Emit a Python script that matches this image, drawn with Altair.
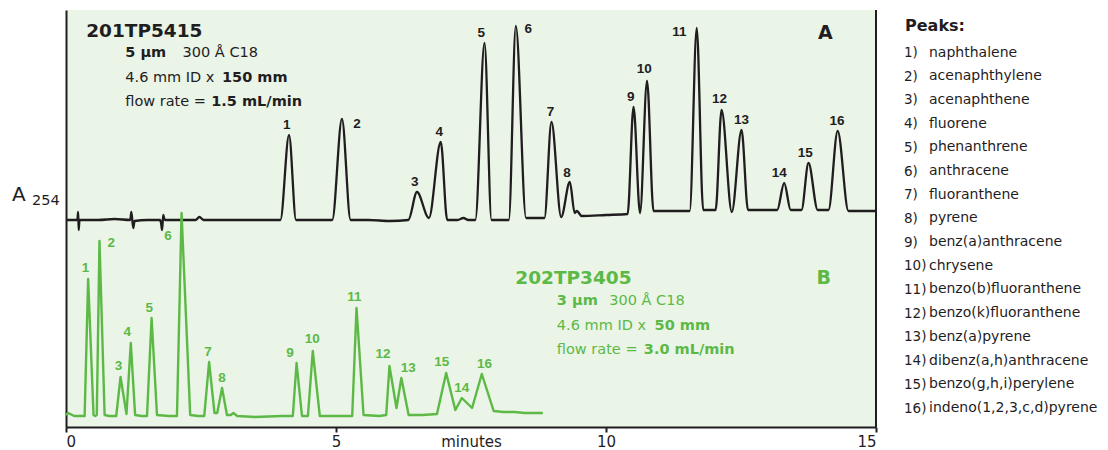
import altair as alt
import pandas as pd

DARK = "#1f1d1e"
GREEN = "#5cb946"
BG = "#eaf4e7"

# ---- Trace A (201TP5415): retention time (min) and detector response (offset trace, arb. units)
a_time = [0.00, 0.21, 0.225, 0.235, 0.25, 0.60, 0.90, 1.19, 1.21, 1.245, 1.27, 1.50,
          1.74, 1.76, 1.78, 1.80, 1.83, 2.10, 2.40, 2.47, 2.55, 3.00, 3.50, 3.97,
          4.13, 4.26, 4.50, 4.93, 5.11, 5.27, 5.60, 6.00, 6.34, 6.50, 6.72, 6.94, 7.06,
          7.25, 7.36, 7.45, 7.58, 7.75, 7.88, 8.05, 8.20, 8.33, 8.52, 8.70, 8.86,
          8.99, 9.17, 9.33, 9.42, 9.46, 9.55, 10.00, 10.40, 10.51, 10.63, 10.76, 10.88,
          11.20, 11.55, 11.68, 11.80, 11.95, 12.03, 12.14, 12.33, 12.51, 12.63, 12.90,
          13.17, 13.30, 13.42, 13.62, 13.75, 13.92, 14.12, 14.29, 14.49, 14.70, 15.00]
a_resp = [207, 207, 215, 197, 207, 207, 208, 207, 215, 199, 206, 207,
          207, 204, 197, 212, 207, 207, 207, 210, 207, 207, 207, 207,
          292, 207, 207, 207, 308, 207, 207, 206, 207, 235, 209, 285, 207,
          207, 209, 207, 207, 384, 207, 207, 207, 401, 209, 209, 209,
          305, 210, 245, 214, 216, 211, 212, 213, 320, 214, 346, 216,
          216, 216, 399, 217, 217, 217, 317, 215, 297, 217, 217,
          217, 244, 217, 217, 264, 217, 217, 296, 216, 216, 216]

# ---- Trace B (202TP3405)
b_time = [0.00, 0.04, 0.08, 0.15, 0.345, 0.41, 0.51, 0.54, 0.57, 0.62, 0.715, 0.80,
          0.93, 1.01, 1.12, 1.20, 1.28, 1.40, 1.50, 1.585, 1.685, 1.90, 2.055, 2.14,
          2.30, 2.45, 2.56, 2.65, 2.75, 2.80, 2.89, 2.98, 3.05, 3.10, 3.17, 3.50, 4.00,
          4.20, 4.27, 4.37, 4.48, 4.57, 4.70, 5.00, 5.30, 5.38, 5.51, 5.80, 5.93, 5.99,
          6.12, 6.21, 6.345, 6.60, 6.87, 7.04, 7.21, 7.33, 7.52, 7.70, 7.92, 8.10,
          8.30, 8.50, 8.83]
b_resp = [12, 14, 13, 11, 11, 148, 12, 11, 12, 186, 12, 11,
          11, 50, 13, 84, 12, 11, 11, 109, 12, 11, 11, 214,
          12, 11, 11, 65, 14, 14, 39, 12, 12, 14, 11, 10, 11,
          11, 64, 11, 11, 76, 11, 11, 11, 119, 12, 11, 12, 61,
          19, 49, 12, 12, 13, 54, 17, 29, 19, 53, 16, 15,
          15, 14, 14]

peak_ids = [str(i) for i in range(1, 17)]
peak_names = ["naphthalene", "acenaphthylene", "acenaphthene", "fluorene",
              "phenanthrene", "anthracene", "fluoranthene", "pyrene",
              "benz(a)anthracene", "chrysene", "benzo(b)fluoranthene",
              "benzo(k)fluoranthene", "benz(a)pyrene", "dibenz(a,h)anthracene",
              "benzo(g,h,i)perylene", "indeno(1,2,3,c,d)pyrene"]

# peak number label anchors (minutes, response)
a_lab_t = [4.09, 5.39, 6.46, 6.91, 7.69, 8.56, 8.97, 9.28, 10.46, 10.71, 11.36, 12.10,
           12.51, 13.21, 13.69, 14.28]
a_lab_v = [302, 303, 245, 295, 394, 398, 315, 254, 330, 358, 395, 328,
           307, 254, 274, 306]
b_lab_t = [0.36, 0.84, 0.97, 1.135, 1.54, 1.89, 2.63, 2.89, 4.15, 4.56, 5.34, 5.87,
           6.34, 7.33, 6.96, 7.75]
b_lab_v = [159, 184, 61, 95, 119, 191, 75, 49, 74, 88, 130, 73,
           59, 39, 65, 63]

# column description texts
info_trace = ["A"] * 7 + ["B"] * 7
info_text = ["201TP5415", "5 µm", "300 Å C18", "4.6 mm ID x", "150 mm", "flow rate =", "1.5 mL/min",
             "202TP3405", "3 µm", "300 Å C18", "4.6 mm ID x", "50 mm", "flow rate =", "3.0 mL/min"]
info_role = ["title", "bold", "regular", "regular", "bold", "regular", "bold"] * 2
info_t = [0.374, 1.098, 2.159, 1.098, 2.889, 1.098, 2.69,
          8.32, 9.09, 10.06, 9.09, 10.90, 9.09, 10.70]
info_v = [396, 374, 374, 349, 349, 325, 325,
          149, 126, 126, 101, 101, 77, 77]

panel_text = ["A", "B"]
panel_t = [14.06, 14.03]
panel_v = [394, 149]

W, H = 810, 417

x_enc = alt.X("t:Q", scale=alt.Scale(domain=[0, 15], nice=False, zero=False),
              axis=alt.Axis(values=[0, 5, 10, 15], format="d", title="minutes",
                            grid=False, tickSize=5, tickWidth=2, tickColor=DARK,
                            domainColor=DARK, domainWidth=2, labelFont="DejaVu Sans",
                            labelFontSize=15, labelColor=DARK, labelPadding=2,
                            titleFont="DejaVu Sans", titleFontSize=15,
                            titleFontWeight="normal", titleColor=DARK,
                            titleBaseline="top", titleY=7))
y_enc = alt.Y("v:Q", scale=alt.Scale(domain=[0, 417], nice=False, zero=False),
              axis=alt.Axis(labels=False, ticks=False, title=None, grid=False,
                            domainColor=DARK, domainWidth=2))
col_enc = alt.Color("trace:N", scale=alt.Scale(domain=["A", "B"], range=[DARK, GREEN]),
                    legend=None)

df_a = pd.DataFrame({"t": a_time, "v": a_resp})
df_b = pd.DataFrame({"t": b_time, "v": b_resp})

line_a = alt.Chart(df_a).mark_line(color=DARK, strokeWidth=2.3, interpolate="monotone").encode(
    x=x_enc, y=y_enc)
line_b = alt.Chart(df_b).mark_line(color=GREEN, strokeWidth=2.4, strokeJoin="round").encode(
    x=x_enc, y=y_enc)

df_lab = pd.DataFrame({
    "t": a_lab_t + b_lab_t,
    "v": a_lab_v + b_lab_v,
    "id": peak_ids + peak_ids,
    "trace": ["A"] * 16 + ["B"] * 16,
})
labels = alt.Chart(df_lab).mark_text(font="Liberation Sans", fontWeight="bold", fontSize=13.5,
                                     baseline="middle", align="center").encode(
    x=x_enc, y=y_enc, text="id:N", color=col_enc)

df_info = pd.DataFrame({"t": info_t, "v": info_v, "text": info_text,
                        "role": info_role, "trace": info_trace})
info_title = alt.Chart(df_info).transform_filter(alt.datum.role == "title").mark_text(
    font="DejaVu Sans", fontWeight="bold", fontSize=18.5, align="left", baseline="middle").encode(
    x=x_enc, y=y_enc, text="text:N", color=col_enc)
info_bold = alt.Chart(df_info).transform_filter(alt.datum.role == "bold").mark_text(
    font="DejaVu Sans", fontWeight="bold", fontSize=14.5, align="left", baseline="middle").encode(
    x=x_enc, y=y_enc, text="text:N", color=col_enc)
info_reg = alt.Chart(df_info).transform_filter(alt.datum.role == "regular").mark_text(
    font="DejaVu Sans", fontSize=14.5, align="left", baseline="middle").encode(
    x=x_enc, y=y_enc, text="text:N", color=col_enc)

df_panel = pd.DataFrame({"t": panel_t, "v": panel_v, "text": panel_text, "trace": panel_text})
panel_lab = alt.Chart(df_panel).mark_text(font="DejaVu Sans", fontWeight="bold", fontSize=19,
                                          align="center", baseline="middle").encode(
    x=x_enc, y=y_enc, text="text:N", color=col_enc)

one = pd.DataFrame({"t": [15], "v": [0]})
right_rule = alt.Chart(one).mark_rule(color=DARK, strokeWidth=2).encode(
    x=x_enc, y=alt.value(0), y2=alt.value(H))

# y-axis label A254
ylab_a = alt.Chart(one).mark_text(text="A", font="DejaVu Sans", fontSize=20, color=DARK,
                                  align="left", baseline="middle").encode(
    x=alt.value(-54), y=alt.value(185))
ylab_sub = alt.Chart(one).mark_text(text="254", font="DejaVu Sans", fontSize=14.5, color=DARK,
                                    align="left", baseline="middle").encode(
    x=alt.value(-34), y=alt.value(190.5))

# peak list
leg_head = alt.Chart(one).mark_text(text="Peaks:", font="DejaVu Sans", fontWeight="bold",
                                    fontSize=16, color=DARK, align="left",
                                    baseline="middle").encode(
    x=alt.value(839), y=alt.value(16))
leg_num = alt.Chart(one).mark_text(text=[p + ")" for p in peak_ids], font="DejaVu Sans",
                                   fontSize=13.5, color=DARK, align="left", baseline="top",
                                   lineHeight=23.7).encode(
    x=alt.value(838), y=alt.value(36))
leg_names = alt.Chart(one).mark_text(text=peak_names, font="DejaVu Sans",
                                     fontSize=14, color=DARK, align="left", baseline="top",
                                     lineHeight=23.7).encode(
    x=alt.value(863), y=alt.value(35.5))

chart = alt.layer(
    line_a, line_b, labels, info_title, info_bold, info_reg, panel_lab, right_rule,
    ylab_a, ylab_sub, leg_head, leg_num, leg_names
).properties(
    width=W, height=H,
    autosize=alt.AutoSizeParams(type="none"),
    padding={"left": 66, "top": 10, "right": 232, "bottom": 23},
).configure_view(fill=BG, stroke=None)

chart.save("out.html", embed_options={"renderer": "svg", "actions": False})
